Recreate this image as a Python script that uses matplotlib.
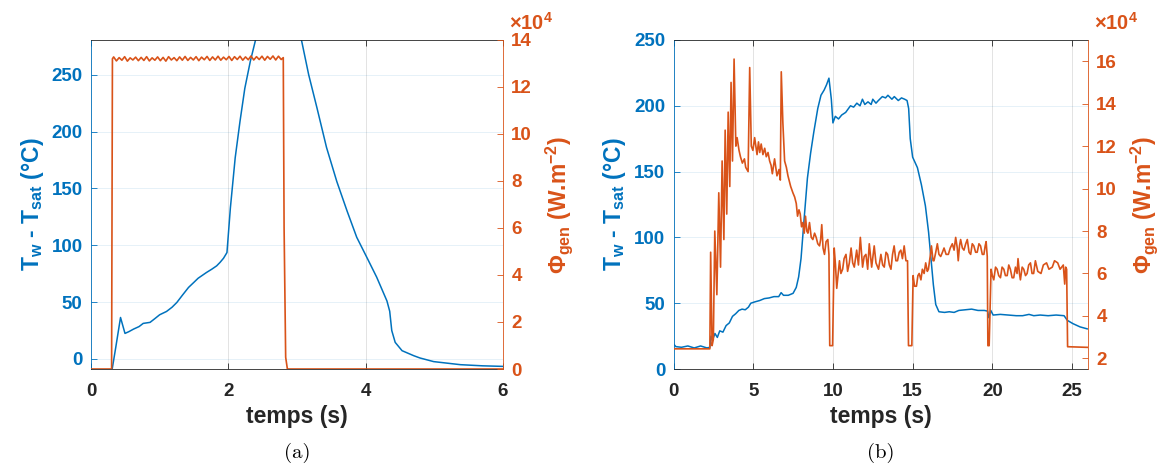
import matplotlib
matplotlib.use("Agg")
import matplotlib.pyplot as plt
from matplotlib.transforms import offset_copy

plt.rcParams['font.family'] = ['Liberation Sans', 'DejaVu Sans']
plt.rcParams['font.weight'] = 'bold'
plt.rcParams['mathtext.default'] = 'regular'

BLUE = "#0072BD"
ORANGE = "#D95319"
DARK = "#262626"
SCALE = 1e4  # flux values below are in units of 1e4 W.m-2

# ---- panel (a) ----
t_a_temp = [0, 0.30, 0.36, 0.43, 0.495, 0.55, 0.62, 0.70, 0.76, 0.86, 0.93, 1.00,
            1.10, 1.18, 1.25, 1.33, 1.42, 1.50, 1.56, 1.68, 1.76, 1.83, 1.88, 1.93,
            1.98, 2.03, 2.10, 2.17, 2.24, 2.32, 2.39, 2.55, 2.75, 2.95, 3.07, 3.17,
            3.29, 3.43, 3.58, 3.73, 3.87, 4.02, 4.16, 4.31, 4.35, 4.38, 4.43, 4.53,
            4.70, 4.79, 4.99, 5.38, 5.70, 6.00]
temp_a = [-12, -12, 10, 36.5, 22.5, 24, 26.3, 28.5, 31.3, 32.2, 35.5, 38.9,
          41.8, 45.5, 49.7, 56, 62.9, 67.5, 71, 76, 79, 81.9, 85, 88.6,
          93.6, 133, 177, 209, 238, 261.7, 279, 320, 345, 312, 279, 250,
          221, 186, 156, 130, 107, 89, 72, 51, 42, 25, 14.6, 7.3,
          2.9, 0.9, -2.3, -5, -6, -6.5]

t_a_phi = [0, 0.300, 0.312,
           0.33, 0.37, 0.41, 0.45, 0.49, 0.53, 0.57, 0.61, 0.65, 0.69, 0.73, 0.77,
           0.81, 0.85, 0.89, 0.93, 0.97, 1.01, 1.05, 1.09, 1.13, 1.17, 1.21, 1.25,
           1.29, 1.33, 1.37, 1.41, 1.45, 1.49, 1.53, 1.57, 1.61, 1.65, 1.69, 1.73,
           1.77, 1.81, 1.85, 1.89, 1.93, 1.97, 2.01, 2.05, 2.09, 2.13, 2.17, 2.21,
           2.25, 2.29, 2.33, 2.37, 2.41, 2.45, 2.49, 2.53, 2.57, 2.61, 2.65, 2.69,
           2.73, 2.77, 2.80,
           2.812, 2.835, 2.86, 6.0]
phi_a = [0, 0, 13.2,
         13.28, 13.11, 13.25, 13.14, 13.29, 13.10, 13.24, 13.15, 13.27, 13.12, 13.26, 13.13,
         13.29, 13.11, 13.24, 13.14, 13.28, 13.12, 13.26, 13.10, 13.29, 13.15, 13.25, 13.12,
         13.28, 13.14, 13.30, 13.13, 13.26, 13.15, 13.29, 13.12, 13.27, 13.16, 13.30, 13.13,
         13.28, 13.15, 13.31, 13.14, 13.27, 13.16, 13.30, 13.13, 13.29, 13.17, 13.31, 13.14,
         13.28, 13.16, 13.32, 13.15, 13.29, 13.17, 13.31, 13.14, 13.30, 13.18, 13.32, 13.15,
         13.31, 13.17, 13.25,
         6.0, 0.5, 0, 0]

# ---- panel (b) ----
t_b_temp = [0, 0.15, 0.5, 0.9, 1.3, 1.7, 2.1, 2.28, 2.35, 2.45, 2.6, 2.75, 2.9, 3.1,
            3.3, 3.5, 3.7, 3.9, 4.1, 4.3, 4.5, 4.7, 4.85, 5.1, 5.4, 5.7, 6.0, 6.3,
            6.6, 6.75, 6.9, 7.2, 7.5, 7.7, 7.85, 8.0, 8.2, 8.4, 8.6, 8.8, 9.05, 9.25,
            9.45, 9.6, 9.75, 9.9, 10.0, 10.15, 10.35, 10.55, 10.8, 11.1, 11.3, 11.5,
            11.7, 11.85, 12.0, 12.2, 12.4, 12.5, 12.7, 12.85, 13.1, 13.3, 13.45, 13.7,
            13.85, 14.1, 14.3, 14.5, 14.65, 14.75, 14.85, 15.0, 15.3, 15.55, 15.8, 16.0,
            16.15, 16.3, 16.45, 16.65, 17.0, 17.3, 17.6, 17.9, 18.3, 18.7, 19.1, 19.5,
            19.7, 19.78, 19.9, 20.05, 20.5, 21.0, 21.5, 21.9, 22.3, 22.6, 23.0, 23.5,
            24.0, 24.5, 24.7, 25.05, 25.5, 25.95]
temp_b = [19, 17, 16.5, 17.5, 16, 17.5, 16, 16.5, 25, 22, 27, 24, 29, 28,
          33, 35, 40, 42, 44.5, 45.5, 45, 47, 50, 51, 52, 53.5, 54, 55,
          55, 58, 56, 56, 57.5, 62, 70, 84, 115, 145, 164, 180, 198, 208,
          212, 216, 221, 205, 187, 192, 190, 193, 195, 200, 199, 202,
          200, 205, 201, 203, 201, 205, 202, 204, 207, 206, 208, 205,
          207, 204, 206, 205, 204, 198, 175, 161, 153, 140, 124, 104,
          84, 64, 49, 43.5, 43, 43.5, 43, 44.5, 45, 45.5, 44.5, 44.5,
          44, 39, 44.5, 41, 41.5, 41, 40.5, 40.5, 41.5, 40.5, 41, 40.5,
          41, 40.5, 37, 34.5, 32, 30.5]

t_b_phi = [0, 2.28, 2.33, 2.42, 2.5, 2.59, 2.72, 2.84, 2.95, 3.05, 3.16, 3.24, 3.34,
           3.43, 3.53, 3.61, 3.7, 3.8, 3.91, 3.99, 4.11, 4.2, 4.32, 4.45, 4.53, 4.68,
           4.78, 4.88, 4.98, 5.09, 5.24, 5.33, 5.41, 5.5, 5.61, 5.72, 5.82, 5.93, 6.03,
           6.12, 6.2, 6.34, 6.49, 6.62, 6.7, 6.76, 6.86, 6.97, 7.08, 7.18, 7.35, 7.49,
           7.6, 7.7, 7.78, 7.87, 7.95, 8.03, 8.11, 8.2, 8.28, 8.36, 8.43, 8.53, 8.64,
           8.74, 8.85, 8.95, 9.05, 9.16, 9.23, 9.3, 9.38, 9.47, 9.57, 9.68, 9.75, 9.8,
           9.98, 10.08, 10.16, 10.24, 10.33, 10.41, 10.5, 10.61, 10.7, 10.82, 10.92,
           11.03, 11.14, 11.24, 11.34, 11.49, 11.6, 11.72, 11.86, 11.96, 12.07, 12.18,
           12.28, 12.43, 12.59, 12.7, 12.86, 13.01, 13.12, 13.22, 13.33, 13.43, 13.54,
           13.64, 13.74, 13.84, 13.95, 14.05, 14.16, 14.26, 14.36, 14.47, 14.58, 14.68,
           14.74, 14.95, 15.03, 15.12, 15.24, 15.33, 15.41, 15.52, 15.61, 15.72, 15.82,
           15.92, 15.99, 16.1, 16.18, 16.28, 16.34, 16.45, 16.55, 16.65, 16.76, 16.87,
           16.97, 17.1, 17.24, 17.36, 17.49, 17.6, 17.7, 17.8, 17.86, 17.94, 18.01,
           18.12, 18.22, 18.33, 18.43, 18.54, 18.64, 18.74, 18.84, 18.95, 19.05, 19.16,
           19.26, 19.37, 19.47, 19.55, 19.61, 19.68, 19.72, 19.8, 19.92, 20.0, 20.09,
           20.2, 20.3, 20.4, 20.51, 20.61, 20.72, 20.82, 20.93, 21.03, 21.13, 21.24,
           21.34, 21.45, 21.55, 21.61, 21.7, 21.76, 21.87, 21.97, 22.08, 22.18, 22.28,
           22.39, 22.49, 22.59, 22.7, 22.85, 23.05, 23.2, 23.4, 23.55, 23.76, 23.9,
           24.1, 24.25, 24.35, 24.45, 24.54, 24.6, 24.66, 24.72, 25.95]
phi_b = [2.45, 2.45, 7.0, 2.6, 2.9, 8.0, 5.0, 9.8, 6.3, 11.3, 7.6, 12.75, 8.8,
         13.6, 10.1, 15.0, 11.3, 16.1, 12.0, 12.4, 11.8, 11.5, 11.2, 11.4, 11.0, 10.8,
         15.7, 12.0, 11.8, 12.4, 11.6, 12.2, 11.7, 12.1, 11.6, 11.9, 11.5, 11.7, 11.3,
         11.1, 10.7, 11.4, 10.6, 10.9, 10.4, 15.5, 13.1, 11.3, 11.0, 10.6, 10.1, 9.8,
         9.6, 9.3, 8.7, 9.0, 8.8, 8.2, 8.4, 7.9, 8.7, 8.0, 7.9, 8.4, 7.7,
         7.6, 7.9, 7.7, 7.4, 7.3, 7.6, 8.3, 7.2, 6.9, 7.5, 7.6, 6.9, 2.6,
         2.6, 7.2, 6.4, 5.3, 6.0, 6.6, 6.0, 6.2, 6.7, 6.9, 6.1,
         6.5, 7.2, 6.5, 6.3, 7.1, 6.4, 7.7, 6.3, 6.8, 6.9, 6.2,
         7.4, 6.3, 7.3, 6.5, 6.2, 6.9, 6.4, 6.3, 7.0, 6.9, 6.4,
         6.2, 6.9, 7.3, 6.6, 6.6, 7.0, 7.1, 6.7, 7.3, 6.6, 6.6,
         2.6, 2.6, 5.9, 5.4, 5.4, 5.9, 6.0, 5.7, 6.2, 6.0, 6.5,
         6.1, 6.2, 6.8, 7.3, 6.6, 6.6, 7.0, 7.4, 6.9, 6.8, 7.0,
         7.2, 6.9, 6.9, 7.2, 7.4, 7.1, 7.7, 7.2, 6.6, 7.3, 7.6,
         7.2, 7.1, 7.4, 7.6, 7.0, 6.9, 7.4, 7.3, 7.0, 7.0, 7.4,
         7.3, 6.9, 6.9, 7.3, 7.5, 6.8, 2.6, 2.6, 6.2, 5.9, 5.7,
         6.3, 6.2, 5.9, 5.8, 6.3, 6.2, 5.9, 5.9, 6.4, 6.2, 5.8,
         5.8, 6.3, 6.0, 6.7, 6.0, 5.7, 6.3, 6.2, 5.9, 6.0, 6.4,
         6.5, 6.0, 6.0, 6.6, 6.1, 6.0, 6.4, 6.5, 6.2, 6.3, 6.6,
         6.5, 6.2, 6.3, 6.4, 5.5, 6.3, 6.2, 2.55, 2.52]

x_ticks_a = [0, 2, 4, 6]
x_ticks_b = [0, 5, 10, 15, 20, 25]
y_ticks_left = [0, 50, 100, 150, 200, 250]
y_ticks_right_a = [0, 2, 4, 6, 8, 10, 12, 14]
y_ticks_right_b = [2, 4, 6, 8, 10, 12, 14, 16]

TICK_FS = 13.5
LABEL_FS = 16.5

fig = plt.figure(figsize=(11.72, 4.68), dpi=100)
ax_a = fig.add_axes([91 / 1172, 99 / 468, 412 / 1172, 329 / 468])
ax_b = fig.add_axes([673.5 / 1172, 99 / 468, 414.5 / 1172, 329 / 468])


def setup(ax, t_temp, temp, t_phi, phi, xlim, ylim_l, ylim_r, xt, yt_r, tag):
    ax.plot(t_temp, temp, color=BLUE, linewidth=1.1)
    ax.set_xlim(*xlim)
    ax.set_ylim(*ylim_l)
    ax.set_xticks(xt)
    ax.set_yticks(y_ticks_left)
    ax.grid(axis='x', color=DARK, alpha=0.13, linewidth=0.7)
    ax.grid(axis='y', color=BLUE, alpha=0.10, linewidth=0.7)
    ax.set_axisbelow(True)
    ax.tick_params(axis='x', colors=DARK, labelsize=TICK_FS, direction='in',
                   length=4, width=0.6, top=True, pad=10)
    ax.tick_params(axis='y', colors=BLUE, labelsize=TICK_FS, direction='in',
                   length=4, width=0.6, right=False, pad=6)
    for lab in ax.get_xticklabels() + ax.get_yticklabels():
        lab.set_fontweight('bold')
    ax.spines['left'].set_color(BLUE)
    ax.spines['right'].set_visible(False)
    for s in ['top', 'bottom']:
        ax.spines[s].set_color(DARK)
    for s in ax.spines.values():
        s.set_linewidth(0.6)
    ax.set_xlabel('temps (s)', fontsize=LABEL_FS, fontweight='bold', color=DARK, labelpad=4)
    ax.set_ylabel('T$_{w}$ - T$_{sat}$ (°C)', fontsize=LABEL_FS, fontweight='bold',
                  color=BLUE, labelpad=4)
    ax.text(0.5, -0.255, tag, transform=ax.transAxes, ha='center', va='center',
            fontsize=15, fontweight='normal', family='cmr10', color='black')

    ax2 = ax.twinx()
    ax2.plot(t_phi, [p * SCALE for p in phi], color=ORANGE, linewidth=1.2)
    ax2.set_ylim(ylim_r[0] * SCALE, ylim_r[1] * SCALE)
    ax2.set_yticks([v * SCALE for v in yt_r])
    ax2.set_yticklabels([str(v) for v in yt_r])
    ax2.tick_params(axis='y', colors=ORANGE, labelsize=TICK_FS, direction='in',
                    length=4, width=0.6, pad=6)
    for lab in ax2.get_yticklabels():
        lab.set_fontweight('bold')
    # exponent label shown by MATLAB at the top of the right axis
    tr = offset_copy(ax2.transAxes, fig=fig, x=4, y=7, units='points')
    ax2.text(1.0, 1.0, r'$\times$10$^{4}$', transform=tr, ha='left', va='baseline',
             fontsize=TICK_FS + 1, fontweight='bold', color=ORANGE)
    for s in ['left', 'top', 'bottom']:
        ax2.spines[s].set_visible(False)
    ax2.spines['right'].set_color(ORANGE)
    ax2.spines['right'].set_linewidth(0.6)
    ax2.set_ylabel('Φ$_{gen}$ (W.m$^{-2}$)', fontsize=LABEL_FS, fontweight='bold',
                   color=ORANGE, rotation=90, labelpad=8)
    return ax2


setup(ax_a, t_a_temp, temp_a, t_a_phi, phi_a, (0, 6), (-8.8, 280.5), (0, 14),
      x_ticks_a, y_ticks_right_a, '(a)')
setup(ax_b, t_b_temp, temp_b, t_b_phi, phi_b, (0, 26), (0, 250), (1.5, 17),
      x_ticks_b, y_ticks_right_b, '(b)')

fig.savefig('out.png', dpi=100)
